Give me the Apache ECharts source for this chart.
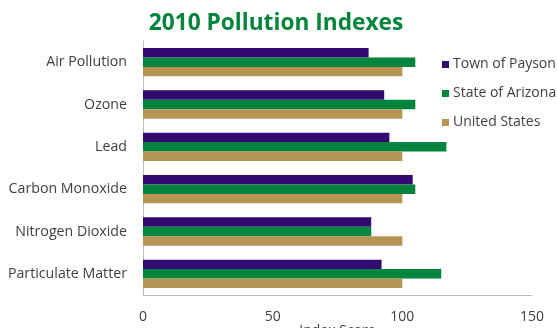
<!DOCTYPE html>
<html>
<head>
<meta charset="utf-8">
<script src="https://cdn.jsdelivr.net/npm/echarts@6/dist/echarts.min.js"></script>
<style>
  html, body { margin: 0; padding: 0; background: #ffffff; }
  #chart { width: 557px; height: 328px; }
</style>
</head>
<body>
<div id="chart"></div>
<script>
// Pollution categories, listed top to bottom
const categories = ['Air Pollution', 'Ozone', 'Lead', 'Carbon Monoxide', 'Nitrogen Dioxide', 'Particulate Matter'];

// Index values per area (US average = 100)
const paysonValues  = [87, 93, 95, 104, 88, 92];
const arizonaValues = [105, 105, 117, 105, 88, 115];
const usValues      = [100, 100, 100, 100, 100, 100];

const seriesNames = ['Town of Payson', 'State of Arizona', 'United States'];
const seriesColors = ['#330a6f', '#00843e', '#b69453'];

// x-axis tick settings
const xMin = 0, xMax = 150, xStep = 50;

const FONT = 'Open Sans';
const chart = echarts.init(document.getElementById('chart'), null, { renderer: 'canvas' });

const valueSets = [paysonValues, arizonaValues, usValues];

chart.setOption({
  animation: false,
  title: {
    text: '2010 Pollution Indexes',
    left: 271, top: 7, textAlign: 'center',
    textStyle: { color: '#00843e', fontSize: 22.7, fontWeight: 'bold', fontFamily: FONT }
  },
  legend: {
    orient: 'vertical',
    left: 437, top: 51,
    itemWidth: 7, itemHeight: 7, itemGap: 12,
    icon: 'rect',
    data: seriesNames,
    textStyle: { color: '#404040', fontSize: 14, fontFamily: FONT, lineHeight: 17, padding: [0, 0, 0, -1] }
  },
  grid: { left: 143, right: 25, top: 41, bottom: 33, containLabel: false, outerBoundsMode: 'none' },
  xAxis: {
    type: 'value', min: xMin, max: xMax, interval: xStep,
    name: 'Index Score', nameLocation: 'middle', nameGap: 29, nameMoveOverlap: false,
    nameTextStyle: { color: '#404040', fontSize: 14, fontFamily: FONT, verticalAlign: 'top' },
    axisLine: { show: true, lineStyle: { color: '#bfbfbf', width: 1 } },
    axisTick: { show: false },
    splitLine: { show: false },
    axisLabel: { color: '#404040', fontSize: 14, fontFamily: FONT, margin: 15 }
  },
  yAxis: {
    type: 'category', data: categories, inverse: true,
    axisLine: { show: true, lineStyle: { color: '#bfbfbf', width: 1 } },
    axisTick: { show: false },
    axisLabel: { color: '#404040', fontSize: 14.2, fontFamily: FONT, margin: 16 }
  },
  series: seriesNames.map((name, i) => ({
    name, type: 'bar',
    data: valueSets[i],
    itemStyle: { color: seriesColors[i] },
    barGap: '0%', barCategoryGap: '33%'
  }))
});
</script>
</body>
</html>
